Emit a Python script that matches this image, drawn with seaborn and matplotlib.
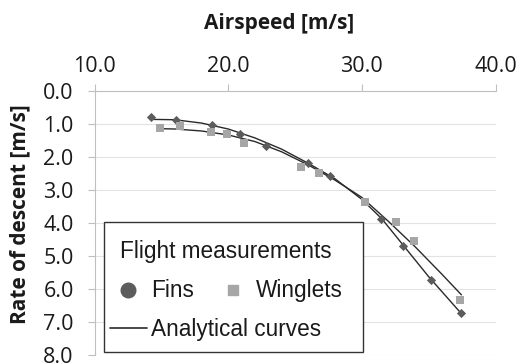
import numpy as np
import pandas as pd
import matplotlib
matplotlib.use("Agg")
import matplotlib.pyplot as plt
from matplotlib.lines import Line2D
from matplotlib.patches import Rectangle
import seaborn as sns

# Flight measurements
fins_speed = [14.2, 16.1, 18.8, 20.9, 22.8, 25.95, 27.63, 31.46, 33.1, 35.15, 37.43]
fins_sink = [0.79, 0.87, 1.02, 1.29, 1.65, 2.18, 2.56, 3.87, 4.68, 5.71, 6.72]
wing_speed = [14.9, 16.38, 18.75, 19.9, 21.22, 25.45, 26.77, 30.2, 32.57, 33.93, 37.35]
wing_sink = [1.13, 1.07, 1.23, 1.30, 1.58, 2.31, 2.48, 3.37, 3.98, 4.53, 6.32]

# Analytical curves
fins_curve_speed = [14.45, 16, 18, 20, 22, 24, 26, 28, 30, 31.5, 33, 35, 37.45]
fins_curve_sink = [0.86, 0.87, 0.97, 1.15, 1.42, 1.76, 2.19, 2.66, 3.28, 3.87, 4.62, 5.62, 6.74]
wing_curve_speed = [14.9, 16, 18, 20, 22, 24, 26, 28, 30, 32, 34, 36, 37.45]
wing_curve_sink = [1.14, 1.15, 1.21, 1.33, 1.53, 1.84, 2.24, 2.70, 3.22, 3.95, 4.72, 5.55, 6.17]

x_ticks = [10.0, 20.0, 30.0, 40.0]
y_ticks = [0, 1, 2, 3, 4, 5, 6, 7, 8]

legend_title = "Flight measurements"
series_labels = ["Fins", "Winglets"]
curve_label = "Analytical curves"

sns.set_style("white")
plt.rcParams["font.family"] = ["Open Sans", "DejaVu Sans"]

fig = plt.figure(figsize=(5.17, 3.64), dpi=100)
ax = fig.add_axes([94.5 / 517, 1 - 355.3 / 364, 401 / 517, 264.3 / 364])

meas = pd.DataFrame({
    "speed": fins_speed + wing_speed,
    "sink": fins_sink + wing_sink,
    "config": ["Fins"] * len(fins_speed) + ["Winglets"] * len(wing_speed),
})
curves = pd.DataFrame({
    "speed": fins_curve_speed + wing_curve_speed,
    "sink": fins_curve_sink + wing_curve_sink,
    "config": ["Fins"] * len(fins_curve_speed) + ["Winglets"] * len(wing_curve_speed),
})

dark = "#5c5c5c"
light = "#a6a6a6"
line_col = "#2a2a2a"

sns.lineplot(data=curves, x="speed", y="sink", units="config", estimator=None,
             sort=False, color=line_col, linewidth=1.0, ax=ax, legend=False)
sns.scatterplot(data=meas[meas.config == "Fins"], x="speed", y="sink", marker="D",
                color=dark, s=22, linewidth=0, ax=ax, legend=False, zorder=3)
sns.scatterplot(data=meas[meas.config == "Winglets"], x="speed", y="sink", marker="s",
                color=light, s=30, linewidth=0, ax=ax, legend=False, zorder=3)

ax.set_xlim(10, 40)
ax.set_ylim(8, 0)
ax.xaxis.tick_top()
ax.xaxis.set_label_position("top")
ax.set_xticks(x_ticks)
ax.set_xticklabels([f"{v:.1f}" for v in x_ticks])
ax.set_yticks(y_ticks)
ax.set_yticklabels([f"{v:.1f}" for v in y_ticks])
ax.tick_params(axis="both", which="both", direction="out", length=5, width=0.8,
               color="#bfbfbf", labelsize=15.5, labelcolor="#1a1a1a")
ax.tick_params(axis="x", top=True, bottom=False, pad=5)
ax.tick_params(axis="y", left=True, pad=10)

ax.grid(axis="y", color="#e3e3e3", linewidth=0.8)
ax.grid(axis="x", visible=False)
for side in ["right", "bottom"]:
    ax.spines[side].set_visible(False)
for side in ["top", "left"]:
    ax.spines[side].set_color("#bfbfbf")
    ax.spines[side].set_linewidth(0.8)

ax.set_xlabel("Airspeed [m/s]", fontsize=15, fontweight="bold", color="#1a1a1a")
ax.set_ylabel("Rate of descent [m/s]", fontsize=15, fontweight="bold", color="#1a1a1a")
ax.xaxis.set_label_coords(0.460, 1.2535)
ax.xaxis.label.set_va("center")
ax.yaxis.set_label_coords(-0.186, 0.5346)
ax.yaxis.label.set_va("center")

# legend frame
frame = Rectangle((0.0237, 0.0125), 0.646, 0.4918, transform=ax.transAxes,
                  facecolor="white", edgecolor="#333333", linewidth=1.0, zorder=4)
ax.add_patch(frame)

leg_font = {"family": "Liberation Sans", "size": 16.3}
ax.text(0.0636, 0.369, legend_title, transform=ax.transAxes, ha="left", va="baseline",
        fontfamily="Liberation Sans", fontsize=16.3, color="#1a1a1a", zorder=6)

h_meas = [
    Line2D([], [], marker="o", linestyle="none", color=dark, markersize=10.5),
    Line2D([], [], marker="s", linestyle="none", color=light, markersize=7.5),
]
leg_a = ax.legend(h_meas, series_labels, ncol=2, loc="center left",
                  bbox_to_anchor=(0.0613, 0.2433), borderaxespad=0, borderpad=0,
                  frameon=False, prop=leg_font, handlelength=0.8, handletextpad=0.62,
                  columnspacing=1.33)
leg_a.set_zorder(6)
for t in leg_a.get_texts():
    t.set_color("#1a1a1a")
ax.add_artist(leg_a)

h_curve = [Line2D([], [], color=line_col, linewidth=1.2)]
leg_b = ax.legend(h_curve, [curve_label], loc="center left",
                  bbox_to_anchor=(0.0387, 0.0995), borderaxespad=0, borderpad=0,
                  frameon=False, prop=leg_font, handlelength=1.62, handletextpad=0.2)
leg_b.set_zorder(6)
for t in leg_b.get_texts():
    t.set_color("#1a1a1a")

fig.savefig("out.png", dpi=100)
